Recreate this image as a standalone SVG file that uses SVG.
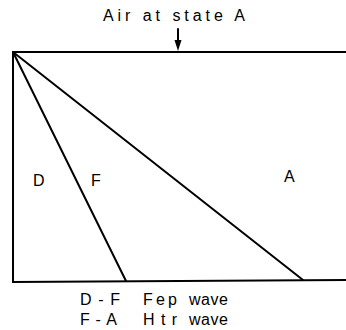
<svg xmlns="http://www.w3.org/2000/svg" width="346" height="330" viewBox="0 0 346 330">
<style>
.l{stroke:#000;stroke-width:2;fill:none;stroke-linecap:round}
.t{font-family:"Liberation Sans",Arial,sans-serif;font-size:16px;fill:#000}
</style>
<rect width="346" height="330" fill="#fff"/>
<g id="frame">
<path class="l" d="M346,52 L13,52 L13,282 L346,280"/>
</g>
<g id="connectors">
<line class="l" x1="13" y1="52" x2="126" y2="281"/>
<line class="l" x1="13" y1="52" x2="303" y2="280"/>
<line class="l" x1="178" y1="29" x2="178" y2="42"/>
<path d="M174.5,40 L181.5,40 L178,51 Z" fill="#000"/>
</g>
<g id="title"><text class="t" x="103" y="21" textLength="142" lengthAdjust="spacing">Air at state A</text></g>
<g id="D"><text class="t" x="33" y="186">D</text></g>
<g id="F"><text class="t" x="91" y="186">F</text></g>
<g id="A"><text class="t" x="284" y="182">A</text></g>
<g id="legend">
<text class="t" x="80" y="305" textLength="40" lengthAdjust="spacing">D-F</text>
<text class="t" x="143" y="305" textLength="34" lengthAdjust="spacing">Fep</text>
<text class="t" x="189" y="305" textLength="39" lengthAdjust="spacing">wave</text>
<text class="t" x="80" y="325" textLength="37" lengthAdjust="spacing">F-A</text>
<text class="t" x="143" y="325" textLength="34" lengthAdjust="spacing">Htr</text>
<text class="t" x="189" y="325" textLength="39" lengthAdjust="spacing">wave</text>
</g>
</svg>
